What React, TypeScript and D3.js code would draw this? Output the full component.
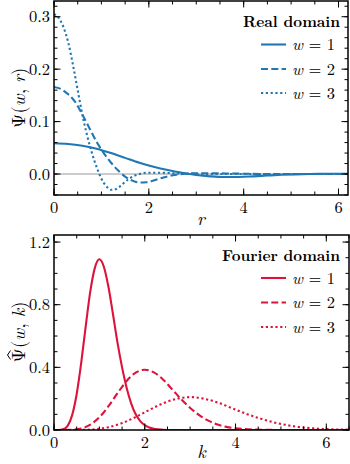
import * as d3 from "d3";

const W = 350;
const H = 464;
const FONT = '"Latin Modern Roman", "Liberation Serif", serif';
const BLUE = "#1f77b4";
const RED = "#dc143c";

// ---- real domain Ψ(w, r) ----
const realR1 = [0, 0.3, 0.6, 0.9, 1.2, 1.5, 1.8, 2.1, 2.4, 2.7, 3.0, 3.3, 3.6, 3.9, 4.2, 4.5, 4.8, 5.1, 5.4, 5.7, 6.0, 6.2];
const realV1 = [0.0587, 0.0574, 0.0539, 0.0483, 0.04, 0.0308, 0.0216, 0.014, 0.0077, 0.0025, -0.0017, -0.0044, -0.0058, -0.0056, -0.0044, -0.0029, -0.0015, -0.0006, 0, 0.0004, 0.0005, 0.0005];

const realR2 = [0, 0.15, 0.3, 0.45, 0.6, 0.75, 0.9, 1.05, 1.2, 1.35, 1.5, 1.65, 1.8, 1.95, 2.1, 2.25, 2.4, 2.55, 2.7, 2.85, 3.0, 3.3, 3.6, 3.9, 4.2, 4.5, 5.1, 6.2];
const realV2 = [0.166, 0.162, 0.152, 0.137, 0.113, 0.087, 0.061, 0.04, 0.022, 0.007, -0.005, -0.0125, -0.0163, -0.0158, -0.0125, -0.0082, -0.0044, -0.0016, 0, 0.0011, 0.0014, 0.0014, 0.0011, 0.0007, 0.0003, 0.0001, 0, 0];

const realR3 = [0, 0.1, 0.2, 0.3, 0.4, 0.5, 0.6, 0.7, 0.8, 0.9, 1.0, 1.1, 1.2, 1.3, 1.4, 1.5, 1.6, 1.7, 1.8, 1.9, 2.0, 2.2, 2.4, 2.6, 2.8, 3.0, 3.4, 6.2];
const realV3 = [0.305, 0.298, 0.28, 0.251, 0.208, 0.16, 0.112, 0.073, 0.04, 0.013, -0.009, -0.023, -0.03, -0.029, -0.023, -0.015, -0.008, -0.003, 0, 0.002, 0.0025, 0.0025, 0.002, 0.0012, 0.0006, 0.0002, 0, 0];

// ---- Fourier domain Ψ̂(w, k) ----
const fourK1 = [0, 0.1, 0.2, 0.3, 0.4, 0.5, 0.6, 0.7, 0.8, 0.9, 1.0, 1.1, 1.2, 1.3, 1.4, 1.5, 1.6, 1.7, 1.8, 1.9, 2.0, 2.1, 2.2, 2.3, 2.4, 2.6, 3.0, 6.5];
const fourV1 = [0, 0, 0.004, 0.026, 0.095, 0.23, 0.43, 0.665, 0.885, 1.035, 1.09, 1.041, 0.913, 0.739, 0.556, 0.4, 0.27, 0.17, 0.1, 0.057, 0.031, 0.016, 0.008, 0.004, 0.0015, 0.0003, 0, 0];

const fourK2 = [0, 0.2, 0.4, 0.6, 0.8, 1.0, 1.2, 1.4, 1.6, 1.8, 2.0, 2.2, 2.4, 2.6, 2.8, 3.0, 3.2, 3.4, 3.6, 3.8, 4.0, 4.2, 4.4, 4.8, 5.2, 6.5];
const fourV2 = [0, 0, 0.0014, 0.009, 0.034, 0.081, 0.152, 0.235, 0.313, 0.366, 0.385, 0.368, 0.323, 0.261, 0.197, 0.141, 0.095, 0.06, 0.035, 0.02, 0.011, 0.0057, 0.0028, 0.0005, 0, 0];

const fourK3 = [0, 0.3, 0.6, 0.9, 1.2, 1.5, 1.8, 2.1, 2.4, 2.7, 3.0, 3.3, 3.6, 3.9, 4.2, 4.5, 4.8, 5.1, 5.4, 5.7, 6.0, 6.3, 6.5];
const fourV3 = [0, 0, 0.0008, 0.005, 0.018, 0.044, 0.083, 0.128, 0.17, 0.199, 0.21, 0.2, 0.176, 0.142, 0.107, 0.077, 0.052, 0.033, 0.019, 0.011, 0.006, 0.003, 0.002];

const topXTicks = [0, 2, 4, 6];
const topYTicks = [0.0, 0.1, 0.2, 0.3];
const botXTicks = [0, 2, 4, 6];
const botYTicks = [0.0, 0.4, 0.8, 1.2];
const legendLabels = ["1", "2", "3"];
const dashes = [null, "7 3.3", "2.2 2.6"];

const zip = (xs: number[], ys: number[]) => xs.map((x, i) => [x, ys[i]] as [number, number]);

type PanelProps = {
  top: number;
  bottom: number;
  right: number;
  xDomain: [number, number];
  yDomain: [number, number];
  xTicks: number[];
  yTicks: number[];
  xMinor: number;
  yMinor: number;
  series: [number, number][][];
  color: string;
  title: string;
  xLabel: string;
  xLabelOffset: number;
  yVar: string;
  hat: boolean;
  zeroLine: boolean;
  clipId: string;
  titleBaseline: number;
  rowY: number[];
};

function Panel(p: PanelProps) {
  const left = 54;
  const x = d3.scaleLinear().domain(p.xDomain).range([left, p.right]);
  const y = d3.scaleLinear().domain(p.yDomain).range([p.bottom, p.top]);
  const line = d3
    .line<[number, number]>()
    .x((d) => x(d[0]))
    .y((d) => y(d[1]))
    .curve(d3.curveMonotoneX);

  const xMinorTicks = d3.range(p.xDomain[0], p.xDomain[1] + 1e-9, p.xMinor);
  const yStart = Math.ceil(p.yDomain[0] / p.yMinor - 1e-9) * p.yMinor;
  const yMinorTicks = d3.range(yStart, p.yDomain[1] + 1e-9, p.yMinor);
  const MAJ = 6.5;
  const MIN = 3.5;
  const tickStroke = { stroke: "#000", strokeWidth: 1 };
  const midY = (p.top + p.bottom) / 2;
  const labelStart = -30;

  return (
    <g>
      <defs>
        <clipPath id={p.clipId}>
          <rect x={left} y={p.top} width={p.right - left} height={p.bottom - p.top} />
        </clipPath>
      </defs>
      {p.zeroLine && (
        <line x1={left} x2={p.right} y1={y(0)} y2={y(0)} stroke="#999" strokeWidth={1} />
      )}
      <g clipPath={`url(#${p.clipId})`}>
        {p.series.map((s, i) => (
          <path
            key={i}
            d={line(s) || ""}
            fill="none"
            stroke={p.color}
            strokeWidth={2.1}
            strokeDasharray={dashes[i] || undefined}
          />
        ))}
      </g>
      {xMinorTicks.map((t, i) => (
        <g key={"xm" + i}>
          <line x1={x(t)} x2={x(t)} y1={p.bottom} y2={p.bottom - MIN} {...tickStroke} />
          <line x1={x(t)} x2={x(t)} y1={p.top} y2={p.top + MIN} {...tickStroke} />
        </g>
      ))}
      {yMinorTicks.map((t, i) => (
        <g key={"ym" + i}>
          <line x1={left} x2={left + MIN} y1={y(t)} y2={y(t)} {...tickStroke} />
          <line x1={p.right} x2={p.right - MIN} y1={y(t)} y2={y(t)} {...tickStroke} />
        </g>
      ))}
      {p.xTicks.map((t) => (
        <g key={"x" + t}>
          <line x1={x(t)} x2={x(t)} y1={p.bottom} y2={p.bottom - MAJ} {...tickStroke} />
          <line x1={x(t)} x2={x(t)} y1={p.top} y2={p.top + MAJ} {...tickStroke} />
          <text x={x(t)} y={p.bottom + 18} textAnchor="middle" fontSize={16.5}>
            {t}
          </text>
        </g>
      ))}
      {p.yTicks.map((t) => (
        <g key={"y" + t}>
          <line x1={left} x2={left + MAJ} y1={y(t)} y2={y(t)} {...tickStroke} />
          <line x1={p.right} x2={p.right - MAJ} y1={y(t)} y2={y(t)} {...tickStroke} />
          <text x={left - 4} y={y(t) + 5.5} textAnchor="end" fontSize={16.5}>
            {t.toFixed(1)}
          </text>
        </g>
      ))}
      <rect
        x={left}
        y={p.top}
        width={p.right - left}
        height={p.bottom - p.top}
        fill="none"
        stroke="#000"
        strokeWidth={1.5}
      />
      <text
        x={(left + p.right) / 2}
        y={p.bottom + p.xLabelOffset}
        textAnchor="middle"
        fontSize={18.5}
        fontStyle="italic"
      >
        {p.xLabel}
      </text>
      <g transform={`translate(25,${midY}) rotate(-90)`}>
        <text x={labelStart} y={0} fontSize={18.5}>
          <tspan>Ψ(</tspan>
          <tspan fontStyle="italic">w</tspan>
          <tspan>, </tspan>
          <tspan fontStyle="italic">{p.yVar}</tspan>
          <tspan>)</tspan>
        </text>
        {p.hat && (
          <path
            d={`M${labelStart + 3},-14.5 L${labelStart + 7.5},-17.5 L${labelStart + 12},-14.5`}
            fill="none"
            stroke="#000"
            strokeWidth={1}
          />
        )}
      </g>
      <text x={340} y={p.titleBaseline} textAnchor="end" fontSize={15.3} fontWeight="bold">
        {p.title}
      </text>
      {legendLabels.map((lab, i) => (
        <g key={"lg" + i}>
          <line
            x1={261}
            x2={286}
            y1={p.rowY[i]}
            y2={p.rowY[i]}
            stroke={p.color}
            strokeWidth={2.1}
            strokeDasharray={dashes[i] || undefined}
          />
          <text x={292} y={p.rowY[i] + 5.5} fontSize={16.5}>
            <tspan fontStyle="italic">w</tspan>
            <tspan> = {lab}</tspan>
          </text>
        </g>
      ))}
    </g>
  );
}

export default function App() {
  return (
    <svg
      width={W}
      height={H}
      viewBox={`0 0 ${W} ${H}`}
      style={{ position: "absolute", left: 0, top: 0, background: "#fff", fontFamily: FONT }}
    >
      <Panel
        top={1}
        bottom={195}
        right={348}
        xDomain={[0, 6.2]}
        yDomain={[-0.04, 0.33]}
        xTicks={topXTicks}
        yTicks={topYTicks}
        xMinor={0.5}
        yMinor={0.02}
        series={[zip(realR1, realV1), zip(realR2, realV2), zip(realR3, realV3)]}
        color={BLUE}
        title="Real domain"
        xLabel="r"
        xLabelOffset={30}
        yVar="r"
        hat={false}
        zeroLine={true}
        clipId="clipTop"
        titleBaseline={27}
        rowY={[44.5, 69, 93]}
      />
      <Panel
        top={235}
        bottom={430}
        right={349}
        xDomain={[0, 6.5]}
        yDomain={[0, 1.245]}
        xTicks={botXTicks}
        yTicks={botYTicks}
        xMinor={0.5}
        yMinor={0.1}
        series={[zip(fourK1, fourV1), zip(fourK2, fourV2), zip(fourK3, fourV3)]}
        color={RED}
        title="Fourier domain"
        xLabel="k"
        xLabelOffset={28}
        yVar="k"
        hat={true}
        zeroLine={false}
        clipId="clipBot"
        titleBaseline={261}
        rowY={[278, 302.5, 327]}
      />
    </svg>
  );
}
